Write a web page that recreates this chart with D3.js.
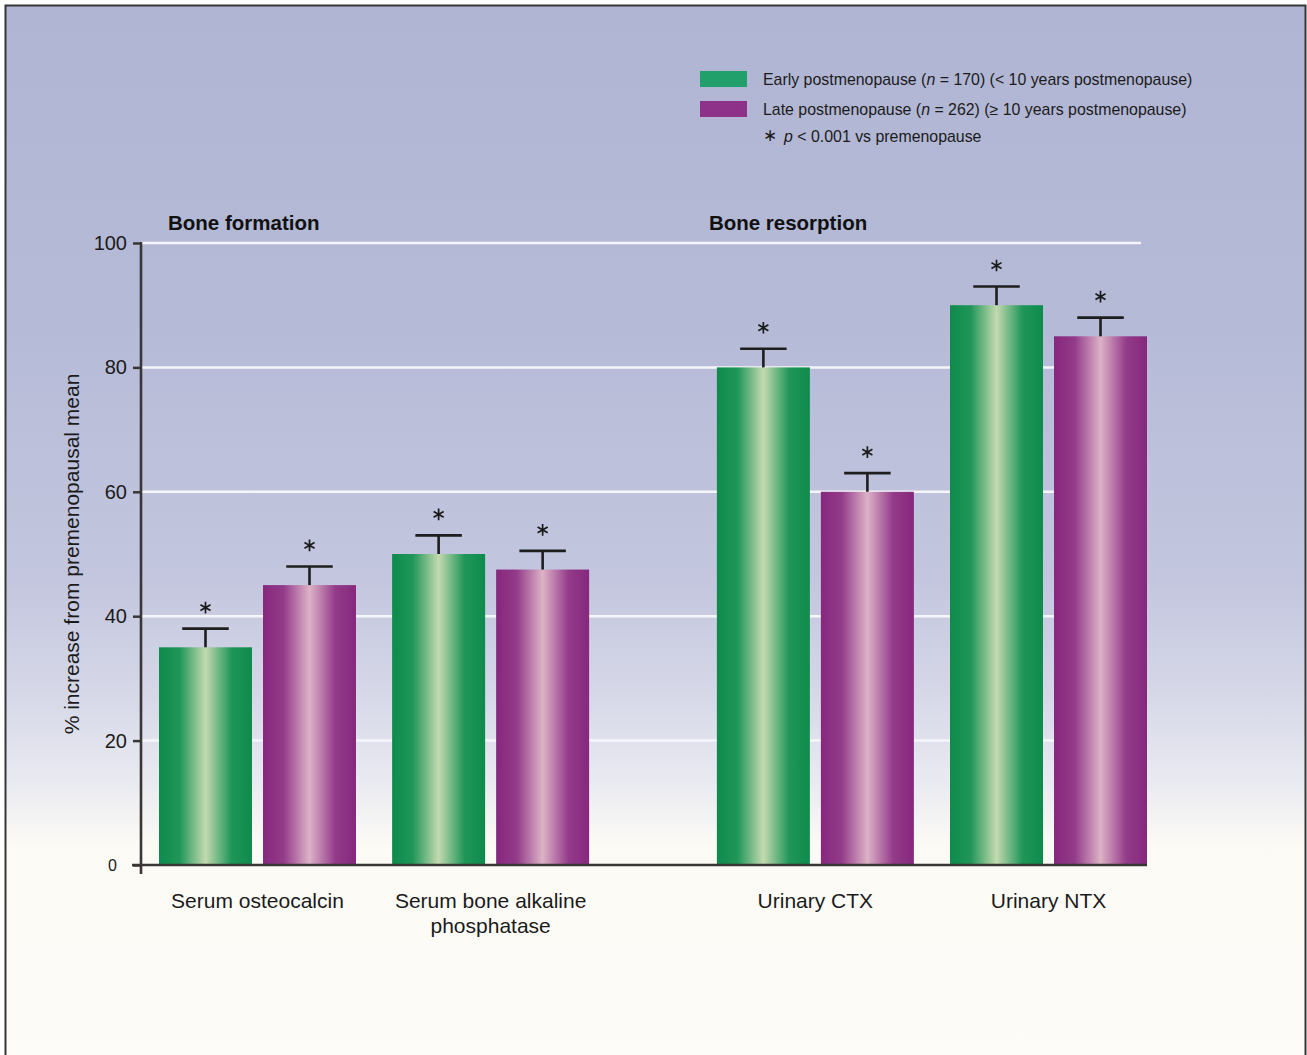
<!DOCTYPE html>
<html>
<head>
<meta charset="utf-8">
<script src="https://cdn.jsdelivr.net/npm/d3@7"></script>
<style>
  html, body { margin: 0; padding: 0; background: #ffffff; }
  svg { display: block; font-family: "Liberation Sans", Arial, Helvetica, sans-serif; }
</style>
</head>
<body>
<svg id="chart" width="1307" height="1055"></svg>
<script>
// ---------------- data ----------------
const sections = ["Bone formation", "Bone resorption"];
const categories = ["Serum osteocalcin", "Serum bone alkaline phosphatase", "Urinary CTX", "Urinary NTX"];
const categorySections = ["Bone formation", "Bone formation", "Bone resorption", "Bone resorption"];
const categoryLabelLines = [["Serum osteocalcin"], ["Serum bone alkaline", "phosphatase"], ["Urinary CTX"], ["Urinary NTX"]];
const seriesKeys = ["early", "late"];
const earlyValues = [35, 50, 80, 90];
const lateValues = [45, 47.5, 60, 85];
const earlyErrors = [3, 3, 3, 3];
const lateErrors = [3, 3, 3, 3];
const earlySignificant = [true, true, true, true];
const lateSignificant = [true, true, true, true];
const yTicks = [0, 20, 40, 60, 80, 100];
const yLabel = "% increase from premenopausal mean";
// legend text runs: [text, italic]
const legendEarly = [["Early postmenopause (", false], ["n", true], [" = 170) (< 10 years postmenopause)", false]];
const legendLate = [["Late postmenopause (", false], ["n", true], [" = 262) (\u2265 10 years postmenopause)", false]];
const legendNote = [["\u2217", false], ["p", true], [" < 0.001 vs premenopause", false]];

// ---------------- styles ----------------
const seriesStyle = {
  early: { swatch: "#22a06c", edge: "#0e8b4c", mid: "#1f9658", light: "#c3d9b0" },
  late:  { swatch: "#8e3289", edge: "#86287d", mid: "#933a89", light: "#dcb2c6" }
};
const ink = "#1b1b1b";
const axisInk = "#3b3636";

// ---------------- layout ----------------
const svg = d3.select("#chart");
const W = 1307, H = 1055;
const plotTop = 243, plotBottom = 865, axisX = 141;

const y = d3.scaleLinear().domain([0, 100]).range([plotBottom, plotTop]);
const xSection = d3.scaleBand().domain(sections).range([159, 1147]).paddingInner(0.229);
const xGroup = d3.scaleBand().domain([0, 1]).range([0, xSection.bandwidth()]).paddingInner(0.155);
const xSeries = d3.scaleBand().domain(seriesKeys).range([0, xGroup.bandwidth()]).paddingInner(0.106);

function groupX(i) {
  const sec = categorySections[i];
  const within = categories.filter((c, j) => categorySections[j] === sec).indexOf(categories[i]);
  return xSection(sec) + xGroup(within);
}

// ---------------- defs ----------------
const defs = svg.append("defs");
const bg = defs.append("linearGradient").attr("id", "bg")
  .attr("gradientUnits", "userSpaceOnUse")
  .attr("x1", 0).attr("y1", 0).attr("x2", 0).attr("y2", H);
[[0, "#b0b5d3"], [0.3, "#b5bad7"], [0.55, "#c3c6de"], [0.66, "#d6d8e8"], [0.74, "#e9eaf1"], [0.8, "#fbfaf5"], [1, "#fdfcf8"]]
  .forEach(([o, c]) => bg.append("stop").attr("offset", o).attr("stop-color", c));

seriesKeys.forEach(k => {
  const s = seriesStyle[k];
  const g = defs.append("linearGradient").attr("id", "bar-" + k)
    .attr("x1", 0).attr("y1", 0).attr("x2", 1).attr("y2", 0);
  [[0, s.edge], [0.22, s.mid], [0.5, s.light], [0.78, s.mid], [1, s.edge]]
    .forEach(([o, c]) => g.append("stop").attr("offset", o).attr("stop-color", c));
});

// ---------------- background & frame ----------------
svg.append("rect").attr("x", 0).attr("y", 0).attr("width", W).attr("height", H).attr("fill", "#ffffff");
svg.append("rect").attr("x", 5.5).attr("y", 5.5).attr("width", W - 7).attr("height", H + 10)
  .attr("fill", "url(#bg)").attr("stroke", "#363636").attr("stroke-width", 2);

// ---------------- gridlines ----------------
svg.append("g").selectAll("line")
  .data(yTicks.filter(t => t > 0))
  .join("line")
  .attr("x1", axisX).attr("x2", xSection.range()[1] - 6)
  .attr("y1", d => y(d)).attr("y2", d => y(d))
  .attr("stroke", "#f6f6fa").attr("stroke-width", 2.5);

// ---------------- bars ----------------
const rows = [];
categories.forEach((c, i) => {
  rows.push({ key: "early", i, value: earlyValues[i], err: earlyErrors[i], sig: earlySignificant[i] });
  rows.push({ key: "late", i, value: lateValues[i], err: lateErrors[i], sig: lateSignificant[i] });
});
const barCx = d => groupX(d.i) + xSeries(d.key) + xSeries.bandwidth() / 2;

svg.append("g").selectAll("rect")
  .data(rows)
  .join("rect")
  .attr("x", d => groupX(d.i) + xSeries(d.key))
  .attr("width", xSeries.bandwidth())
  .attr("y", d => y(d.value))
  .attr("height", d => y(0) - y(d.value))
  .attr("fill", d => "url(#bar-" + d.key + ")");

// error bars (upper whisker only)
const capW = xSeries.bandwidth() / 2;
const err = svg.append("g").attr("stroke", "#1e1e1e").attr("stroke-width", 2.6);
rows.forEach(d => {
  const cx = barCx(d);
  err.append("line").attr("x1", cx).attr("x2", cx).attr("y1", y(d.value)).attr("y2", y(d.value + d.err));
  err.append("line").attr("x1", cx - capW / 2).attr("x2", cx + capW / 2)
    .attr("y1", y(d.value + d.err)).attr("y2", y(d.value + d.err));
});

// significance stars
const star = d3.symbol(d3.symbolAsterisk, 95);
svg.append("g").selectAll("path")
  .data(rows.filter(d => d.sig))
  .join("path")
  .attr("d", star)
  .attr("transform", d => `translate(${barCx(d)},${y(d.value + d.err) - 21})`)
  .attr("fill", "none")
  .attr("stroke", ink)
  .attr("stroke-width", 1.7);

// ---------------- axes ----------------
const yAxis = svg.append("g").attr("transform", `translate(${axisX},0)`)
  .call(d3.axisLeft(y).tickValues(yTicks).tickSize(8).tickPadding(6).tickFormat(d3.format("d")));
yAxis.select(".domain").remove();
yAxis.selectAll(".tick line").attr("stroke", axisInk).attr("stroke-width", 2.5);
yAxis.selectAll(".tick text")
  .attr("font-family", "Liberation Sans, Arial, sans-serif")
  .attr("font-size", 20).attr("fill", ink);
yAxis.selectAll(".tick").filter(d => d === 0).select("text")
  .attr("font-size", 16).attr("x", -24);

// axis lines
svg.append("line").attr("x1", axisX).attr("x2", axisX)
  .attr("y1", y(100) - 1).attr("y2", y(0) + 9)
  .attr("stroke", axisInk).attr("stroke-width", 2.6);
svg.append("line").attr("x1", axisX - 9).attr("x2", xSection.range()[1])
  .attr("y1", y(0)).attr("y2", y(0))
  .attr("stroke", axisInk).attr("stroke-width", 2.4);

// y-axis title
svg.append("text")
  .attr("transform", `translate(79,${(plotTop + plotBottom) / 2}) rotate(-90)`)
  .attr("text-anchor", "middle")
  .attr("font-size", 21)
  .attr("fill", ink)
  .text(yLabel);

// category labels
const catLabels = svg.append("g");
categories.forEach((c, i) => {
  const cx = groupX(i) + xGroup.bandwidth() / 2;
  const t = catLabels.append("text")
    .attr("x", cx).attr("y", 908)
    .attr("text-anchor", "middle").attr("font-size", 21).attr("fill", ink);
  categoryLabelLines[i].forEach((line, li) => {
    t.append("tspan").attr("x", cx).attr("dy", li === 0 ? 0 : 25).text(line);
  });
});

// section titles
svg.append("g").selectAll("text")
  .data(sections)
  .join("text")
  .attr("x", d => xSection(d) + (d === sections[0] ? 9 : -8))
  .attr("y", 230)
  .attr("font-size", 20.5)
  .attr("font-weight", "bold")
  .attr("fill", "#111")
  .text(d => d);

// ---------------- legend ----------------
const legend = svg.append("g");
const legendRows = [
  { runs: legendEarly, key: "early", y: 85 },
  { runs: legendLate, key: "late", y: 115 },
  { runs: legendNote, key: null, y: 142 }
];
legendRows.forEach(r => {
  if (r.key) {
    legend.append("rect")
      .attr("x", 700).attr("y", r.y - 14).attr("width", 47).attr("height", 16)
      .attr("fill", seriesStyle[r.key].swatch);
  }
  const t = legend.append("text").attr("x", 763).attr("y", r.y)
    .attr("font-size", 15.9).attr("fill", ink).attr("xml:space", "preserve");
  r.runs.forEach(([txt, it], j) => {
    const ts = t.append("tspan").attr("font-style", it ? "italic" : "normal").text(txt);
    if (!r.key && j === 0) ts.attr("font-size", 17).attr("dy", -1);
    if (!r.key && j === 1) ts.attr("dy", 1).attr("dx", 7);
  });
});
</script>
</body>
</html>
